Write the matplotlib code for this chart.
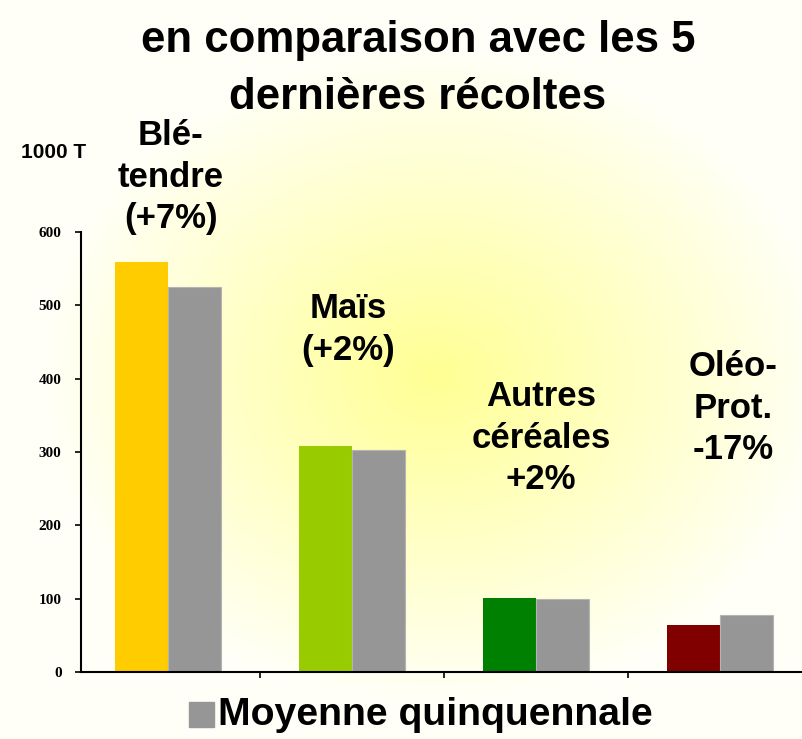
import numpy as np
import matplotlib
matplotlib.use("Agg")
import matplotlib.pyplot as plt
from matplotlib import font_manager

categories = ["Blé-\ntendre\n(+7%)", "Maïs\n(+2%)", "Autres\ncéréales\n+2%", "Oléo-\nProt.\n-17%"]
recolte = [559, 308, 101, 64]
moyenne = [525, 303, 99, 78]
bar_colors = ["#FFCC00", "#99CC00", "#008000", "#800000"]
avg_color = "#969696"
yticks = [0, 100, 200, 300, 400, 500, 600]
title_lines = ["en comparaison avec les 5", "dernières récoltes"]
legend_label = "Moyenne quinquennale"
unit_label = "1000 T"

names = {f.name for f in font_manager.fontManager.ttflist}
narrow = None
for cand in ["Liberation Sans Narrow", "Arial Narrow", "DejaVu Sans Condensed"]:
    if cand in names:
        narrow = cand
        break
sans = "Liberation Sans"

W, H = 803, 739
fig = plt.figure(figsize=(W / 100, H / 100), dpi=100)

# background radial glow
bg = fig.add_axes([0, 0, 1, 1], zorder=0)
yy, xx = np.mgrid[0:H, 0:W]
d = np.sqrt(((xx - 435) / 400.0) ** 2 + ((yy - 375) / 330.0) ** 2)
w = np.clip(1 - d, 0, 1) ** 1.0
img = np.ones((H, W, 3))
img[..., 2] = 0.975 - (0.975 - 0.58) * w
bg.imshow(img, extent=[0, W, H, 0], aspect="auto")
bg.set_xlim(0, W)
bg.set_ylim(H, 0)
bg.axis("off")

# main axes
x0_px, y0_px, ytop_px = 81, 672, 232
ax = fig.add_axes([x0_px / W, (H - y0_px) / H, (W - x0_px) / W, (y0_px - ytop_px) / H], zorder=1)
ax.patch.set_alpha(0)
s = 184.0
xmin = -0.5 + 5 / s
ax.set_xlim(xmin, xmin + (W - x0_px) / s)
ax.set_ylim(0, 600)

x = np.arange(len(categories))
bw = 0.29
ax.bar(x - bw / 2, recolte, width=bw, color=bar_colors, zorder=2)
ax.bar(x + bw / 2, moyenne, width=bw, color=avg_color, edgecolor="#B4B4B4", linewidth=0.8, zorder=2)

for sp in ["top", "right"]:
    ax.spines[sp].set_visible(False)
ax.spines["left"].set_linewidth(1.5)
ax.spines["bottom"].set_linewidth(1.5)

ax.set_yticks(yticks)
ax.set_yticklabels([str(v) for v in yticks], fontfamily="Liberation Serif", fontweight="bold", fontsize=11)
ax.tick_params(axis="y", direction="out", length=4, width=1.2, pad=10)
ax.set_xticks([0.5, 1.5, 2.5])
ax.set_xticklabels([])
ax.tick_params(axis="x", direction="out", length=4, width=1.2)

# category labels
label_pos = [(171, 119), (348, 292), (541, 380), (733, 350)]
for lab, (px, py) in zip(categories, label_pos):
    fig.text(px / W, 1 - py / H, lab, ha="center", va="top", fontsize=25, fontweight="bold",
             family=sans, linespacing=1.33, zorder=3)

# title
tfam = narrow if narrow else sans
tsize = 36 if narrow else 31.5
fig.text(418 / W, 1 - 52 / H, title_lines[0], ha="center", va="baseline", fontsize=tsize,
         fontweight="bold", family=tfam, zorder=3)
fig.text(418 / W, 1 - 109 / H, title_lines[1], ha="center", va="baseline", fontsize=tsize,
         fontweight="bold", family=tfam, zorder=3)

# unit label
fig.text(21 / W, 1 - 153 / H, unit_label, ha="left", va="center", fontsize=15, fontweight="bold",
         family=sans, zorder=3)

# legend
lax = fig.add_axes([0, 0, 1, 1], zorder=2)
lax.set_xlim(0, W)
lax.set_ylim(H, 0)
lax.axis("off")
lax.add_patch(plt.Rectangle((189, 702), 25, 25, color=avg_color))
lax.text(218, 715, legend_label, ha="left", va="center", fontsize=28.3, fontweight="bold", family=sans)

fig.savefig("out.png", dpi=100)
